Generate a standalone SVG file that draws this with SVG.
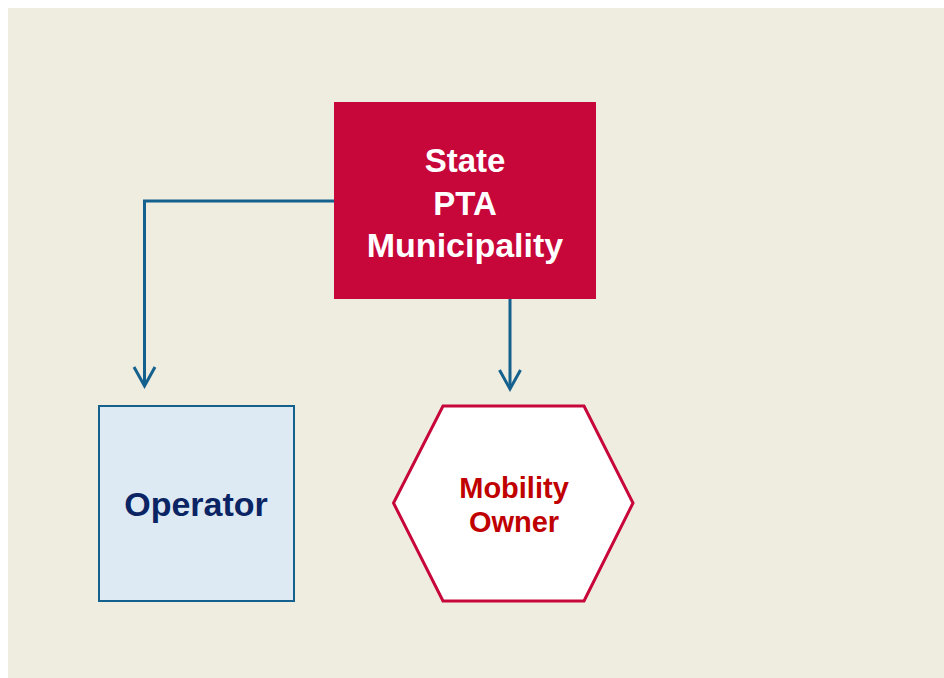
<svg xmlns="http://www.w3.org/2000/svg" width="944" height="678" viewBox="0 0 944 678">
  <defs>
    <style>
      .lbl { font-family: "Liberation Sans", Arial, sans-serif; font-weight: bold; text-anchor: middle; }
      .conn { fill: none; stroke: #14618E; stroke-width: 3; }
      .head { fill: none; stroke: #14618E; stroke-width: 3; stroke-linejoin: miter; }
    </style>
  </defs>
  <rect x="0" y="0" width="944" height="678" fill="#FFFFFF"/>
  <rect x="8" y="8" width="936" height="670" fill="#EFECE0"/>

  <g id="connectors">
    <polyline class="conn" points="334,201 144.5,201 144.5,386"/>
    <polyline class="head" points="134,367 144.5,386 155,367"/>
    <line class="conn" x1="510" y1="299" x2="510" y2="389"/>
    <polyline class="head" points="499.5,370 510,389 520.5,370"/>
  </g>

  <g id="state">
    <rect x="334" y="102" width="262" height="197" fill="#C7063A"/>
    <text class="lbl" x="465" y="172" font-size="33" fill="#FFFFFF">State</text>
    <text class="lbl" x="465" y="215" font-size="33" fill="#FFFFFF">PTA</text>
    <text class="lbl" x="465" y="257" font-size="34" fill="#FFFFFF">Municipality</text>
  </g>

  <g id="operator">
    <rect x="99" y="406" width="195" height="195" fill="#DDEAF3" stroke="#14618E" stroke-width="2"/>
    <text class="lbl" x="196" y="516" font-size="34" fill="#0B2463">Operator</text>
  </g>

  <g id="mobility-owner">
    <polygon points="443,406 584,406 633,503 584,601 443,601 393.5,503" fill="#FFFFFF" stroke="#C7063A" stroke-width="3"/>
    <text class="lbl" x="514" y="498" font-size="29" fill="#C00000">Mobility</text>
    <text class="lbl" x="514" y="532" font-size="29" fill="#C00000">Owner</text>
  </g>
</svg>
